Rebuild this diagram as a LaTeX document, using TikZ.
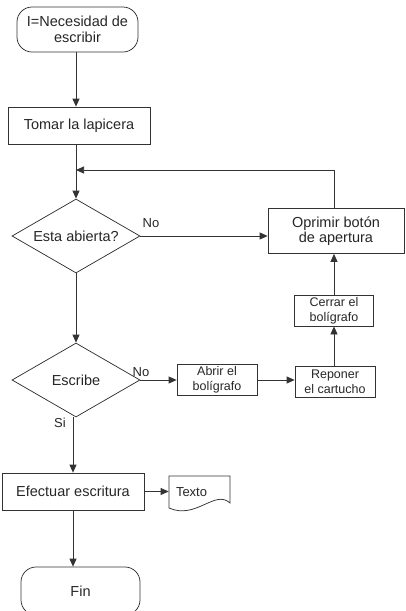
\documentclass[tikz,border=0pt]{standalone}
\usepackage{fontspec}
\setmainfont{Liberation Sans}
\usetikzlibrary{arrows.meta,shapes.geometric}
\begin{document}
\begin{tikzpicture}[x=1pt,y=-1pt, line width=0.75pt,
  every node/.style={font=\fontsize{14.5}{15.5}\selectfont, text=black!85},
  proc/.style={draw=black!80, rectangle, inner sep=0pt, align=center},
  term/.style={draw=black!80, rectangle, rounded corners=15pt, inner sep=0pt, align=center},
  decision/.style={draw=black!80, diamond, inner sep=0pt},
  small/.style={font=\fontsize{12.5}{15}\selectfont},
  lbl/.style={font=\fontsize{13}{15}\selectfont, inner sep=0pt},
  link/.style={draw=black!80, -{Triangle[length=8pt,width=7pt]}},
  plain/.style={draw=black!80}]
\useasboundingbox (0,0) rectangle (405,611);

\node[term, minimum width=121pt, minimum height=45pt] (start) at (77.5,29.5) {I=Necesidad de\\escribir};
\node[proc, minimum width=142pt, minimum height=37pt] (tomar) at (79,125.5) {Tomar la lapicera};
\coordinate (join) at (76,170);
\node[decision, minimum width=128pt, minimum height=74pt] (d1) at (76,236) {\makebox[0pt]{Esta abierta?}};
\node[proc, minimum width=136pt, minimum height=45pt] (oprimir) at (336,231) {Oprimir botón\\de apertura};
\node[proc, small, minimum width=79pt, minimum height=31pt] (cerrar) at (334,310.5) {Cerrar el\\bolígrafo};
\node[decision, minimum width=128pt, minimum height=74pt] (d2) at (76,380) {\makebox[0pt]{Escribe}};
\node[proc, small, minimum width=80pt, minimum height=31pt] (abrir) at (217,380) {Abrir el\\bolígrafo};
\node[proc, small, minimum width=80pt, minimum height=31pt] (reponer) at (335,381.5) {Reponer\\el cartucho};
\node[proc, minimum width=142pt, minimum height=37pt] (efectuar) at (73,491.5) {Efectuar escritura};
\node[font=\fontsize{13}{15}\selectfont, minimum width=61pt, minimum height=32pt, inner sep=0pt] (texto) at (199.5,492) {\makebox[47pt][l]{Texto}};
\draw[plain] (169,476) -- (230,476) -- (230,503) .. controls (215,489) and (196,520) .. (169,508) -- cycle;
\node[term, minimum width=119pt, minimum height=48pt] (fin) at (80.5,591) {Fin};

\node[lbl] (no1) at (151,223) {No};
\node[lbl] (no2) at (141,372) {No};
\node[lbl] (si) at (60,423) {Si};

\draw[link] (start.south -| join) -- (tomar.north -| join);
\draw[link] (tomar.south -| join) -- (d1.north);
\draw[link] (cerrar.north |- oprimir.north) -- (cerrar.north |- join) -- (join);
\draw[link] (d1.east) -- (d1.east -| oprimir.west);
\draw[link] (cerrar.north) -- (cerrar.north |- oprimir.south);
\draw[link] (d1.south) -- (d2.north);
\draw[link] (d2.east) -- (abrir.west);
\draw[link] (abrir.east) -- (abrir.east -| reponer.west);
\draw[link] (reponer.north -| cerrar.south) -- (cerrar.south);
\draw[link] (d2.south -| efectuar.south) -- (efectuar.north);
\draw[link] (efectuar.east) -- (efectuar.east -| texto.west);
\draw[link] (efectuar.south) -- (efectuar.south |- fin.north);
\end{tikzpicture}
\end{document}
